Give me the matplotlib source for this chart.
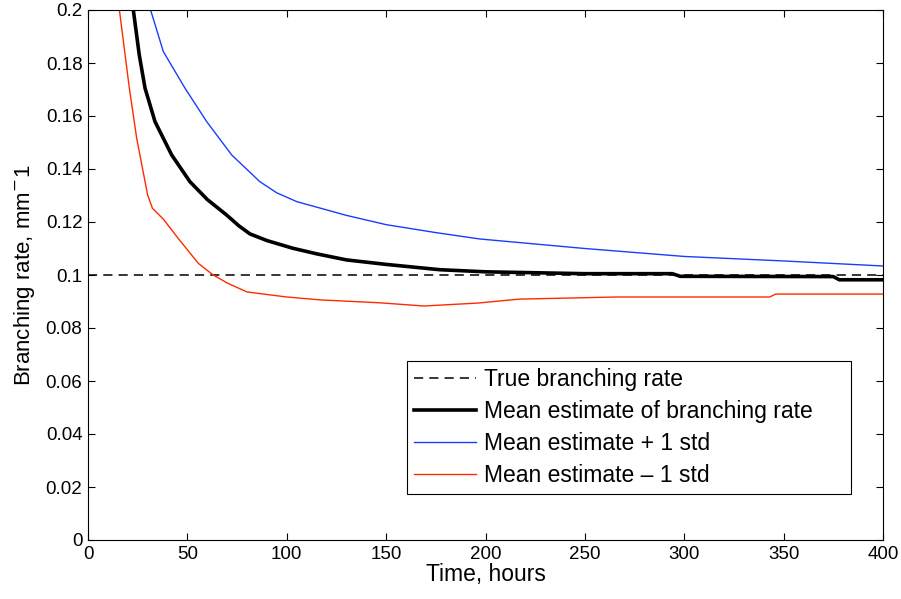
import matplotlib
matplotlib.use("Agg")
import matplotlib.pyplot as plt

plt.rcParams["font.family"] = ["Liberation Sans", "DejaVu Sans"]

# values
true_rate = 0.1

mean_t = [22.8, 25.8, 28.7, 33.7, 42.1, 51.3, 60, 69.8, 76, 81.5, 90, 103,
          115, 130, 150, 177, 200, 250, 294, 298, 375, 378, 400]
mean_y = [0.2, 0.183, 0.1705, 0.1579, 0.1453, 0.1352, 0.1285, 0.1226, 0.1185,
          0.1155, 0.113, 0.1101, 0.108, 0.1057, 0.104, 0.102, 0.1012, 0.1005,
          0.1005, 0.0995, 0.0994, 0.0982, 0.0982]

upper_t = [31.5, 37.9, 48.8, 59.7, 72.3, 86.5, 95, 105, 130, 150, 175, 197,
           250, 300, 350, 400]
upper_y = [0.2, 0.1843, 0.1705, 0.1579, 0.1453, 0.1352, 0.131, 0.1277,
           0.1225, 0.119, 0.116, 0.1136, 0.110, 0.107, 0.1053, 0.1034]

lower_t = [15.8, 20.8, 24.5, 30, 32.4, 38, 45.4, 55.5, 63, 70, 80, 100, 117,
           147, 169, 196, 217, 266, 343, 346, 400]
lower_y = [0.2, 0.1705, 0.1516, 0.1302, 0.1252, 0.121, 0.1138, 0.1044, 0.1,
           0.097, 0.0936, 0.0917, 0.0906, 0.0895, 0.0883, 0.0894, 0.0909,
           0.0917, 0.0917, 0.0928, 0.0928]

fig = plt.figure(figsize=(9.01, 5.99), dpi=100)
ax = fig.add_axes([88 / 901, 1 - 540 / 599, 795 / 901, 530 / 599])

ax.plot([0, 400], [true_rate, true_rate], "k--", lw=1.1, dashes=(6, 4),
        label="True branching rate")
ax.plot(mean_t, mean_y, color="black", lw=2.6,
        label="Mean estimate of branching rate")
ax.plot(upper_t, upper_y, color="#1a3cff", lw=1.0,
        label="Mean estimate + 1 std")
ax.plot(lower_t, lower_y, color="#ff2a00", lw=1.0,
        label="Mean estimate \u2013 1 std")

ax.set_xlim(0, 400)
ax.set_ylim(0, 0.2)
ax.set_xticks(range(0, 401, 50))
ax.set_yticks([i / 100 for i in range(0, 21, 2)])
ax.set_yticklabels(["0", "0.02", "0.04", "0.06", "0.08", "0.1", "0.12",
                    "0.14", "0.16", "0.18", "0.2"])
ax.tick_params(direction="in", top=True, right=True, length=5,
               labelsize=13.5, pad=4)
for s in ax.spines.values():
    s.set_linewidth(0.8)

ax.set_xlabel("Time, hours", fontsize=16.5, labelpad=0)
ax.set_ylabel("Branching rate, mm$^{-}$1", fontsize=16, labelpad=6)

# legend box stretched to the reference's frame
leg = ax.legend(loc="lower left", mode="expand",
                bbox_to_anchor=(407 / 901, 1 - 494 / 599, 444 / 901, 135 / 599),
                bbox_transform=fig.transFigure, fontsize=16.5, fancybox=False,
                framealpha=1, edgecolor="black", handlelength=2.7,
                handletextpad=0.35, borderpad=0.3, labelspacing=0.4,
                borderaxespad=0)
leg.get_frame().set_linewidth(0.8)

fig.savefig("out.png", dpi=100)
